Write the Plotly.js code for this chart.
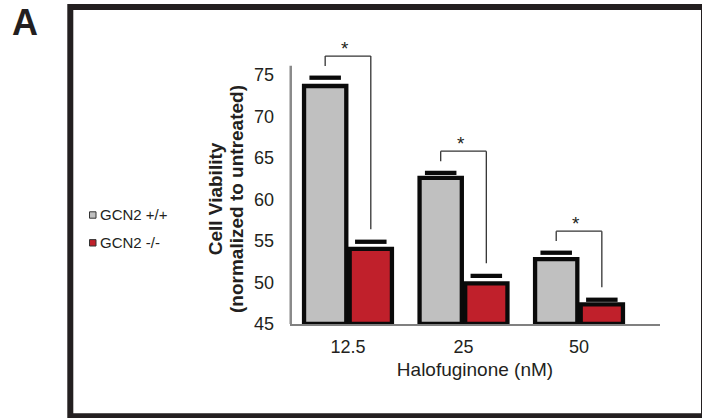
<!DOCTYPE html>
<html>
<head>
<meta charset="utf-8">
<script src="https://cdn.plot.ly/plotly-3.0.1.min.js"></script>
<style>html,body{margin:0;padding:0;background:#fff;}#chart{width:702px;height:418px;}</style>
</head>
<body>
<div id="chart"></div>
<script>
// ---- data ----
const doses = ['12.5', '25', '50'];                 // Halofuginone (nM)
const seriesNames = ['GCN2 +/+', 'GCN2 -/-'];
const wildType = [73.65, 62.6, 52.8];                // GCN2 +/+
const wildTypeErr = [1.0, 0.6, 0.78];
const knockout = [54.05, 49.9, 47.37];               // GCN2 -/-
const knockoutErr = [0.85, 0.9, 0.55];
const significance = ['*', '*', '*'];
const yTicks = [45, 50, 55, 60, 65, 70, 75];
const yTitleLines = ['Cell Viability', '(normalized to untreated)'];

// ---- layout geometry ----
const W = 702, H = 418;
const M = {l: 290, r: 42, t: 40, b: 94};
const plotW = W - M.l - M.r, plotH = H - M.t - M.b;
const px = x => (x - M.l) / plotW;          // pixel -> paper x
const py = y => (H - M.b - y) / plotH;      // pixel -> paper y
const BASE = 45;
const BARGAP = 0.21;
const half = (1 - BARGAP) / 4;              // offset of each bar centre from category centre
const ink = '#231f20';
const font = 'Liberation Sans, Arial, sans-serif';
const colors = ['#c0c0c0', '#c0202b'];

const barTrace = (vals, name, color) => ({
  type: 'bar', x: doses, y: vals.map(v => v - BASE), base: BASE, name: name,
  marker: {color: color, line: {color: '#0a0a0a', width: 4.3}},
  showlegend: false, hoverinfo: 'skip'
});
const capTrace = (vals, errs, name) => ({
  type: 'scatter', mode: 'markers', x: doses, y: vals.map((v, i) => v + errs[i]), name: name,
  marker: {symbol: 'line-ew', size: 22.5, color: '#0a0a0a', line: {color: '#0a0a0a', width: 4.3}},
  showlegend: false, hoverinfo: 'skip', cliponaxis: false
});

const data = [
  barTrace(wildType, seriesNames[0], colors[0]),
  barTrace(knockout, seriesNames[1], colors[1]),
  capTrace(wildType, wildTypeErr, seriesNames[0] + ' error'),
  capTrace(knockout, knockoutErr, seriesNames[1] + ' error')
];

const shapes = [];
const annotations = [];

// significance brackets
doses.forEach((d, i) => {
  const gTop = wildType[i] + wildTypeErr[i];
  const rTop = knockout[i] + knockoutErr[i];
  const top = gTop + 2.6;
  const lineStyle = {color: '#333', width: 1.3};
  shapes.push({type: 'line', xref: 'x', yref: 'y', x0: i - half, x1: i - half, y0: gTop + 1.4, y1: top, line: lineStyle});
  shapes.push({type: 'line', xref: 'x', yref: 'y', x0: i - half, x1: i + half, y0: top, y1: top, line: lineStyle});
  shapes.push({type: 'line', xref: 'x', yref: 'y', x0: i + half, x1: i + half, y0: top, y1: rTop + 1.5, line: lineStyle});
  annotations.push({xref: 'x', yref: 'y', x: i, y: top, text: significance[i], showarrow: false,
    xanchor: 'center', yanchor: 'bottom', xshift: -3, yshift: -5, font: {family: font, size: 19, color: ink}});
});

// y axis line (stops short of the top of the plotting area)
shapes.push({type: 'line', xref: 'paper', yref: 'y', x0: 0.002, x1: 0.002, y0: BASE, y1: 76.1,
  line: {color: '#8a8a8a', width: 2.5}, layer: 'above'});

// outer panel frame
shapes.push({type: 'rect', xref: 'paper', yref: 'paper', x0: px(70.3), x1: px(704), y0: py(416.3), y1: py(7),
  line: {color: ink, width: 6}, fillcolor: 'rgba(0,0,0,0)'});

// legend (squares + labels)
const legY = [215, 242.8];
seriesNames.forEach((n, i) => {
  shapes.push({type: 'rect', xref: 'paper', yref: 'paper', x0: px(89.5), x1: px(96), y0: py(legY[i] + 3.2), y1: py(legY[i] - 3.2),
    fillcolor: colors[i], line: {color: '#333', width: 1}});
  annotations.push({xref: 'paper', yref: 'paper', x: px(97.5), y: py(legY[i] - 0.5), text: n, showarrow: false,
    xanchor: 'left', yanchor: 'middle', font: {family: font, size: 15, color: ink}});
});

// y-axis title (two lines)
const yTitleX = [215, 236.7];
yTitleLines.forEach((t, i) => {
  annotations.push({xref: 'paper', yref: 'paper', x: px(yTitleX[i]), y: py(199.3), text: '<b>' + t + '</b>',
    textangle: -90, showarrow: false, xanchor: 'center', yanchor: 'middle',
    font: {family: font, size: 19, color: ink}});
});

// panel letter
annotations.push({xref: 'paper', yref: 'paper', x: px(25), y: py(22.5), text: '<b>A</b>', showarrow: false,
  xanchor: 'center', yanchor: 'middle', font: {family: font, size: 36, color: ink}});

const layout = {
  width: W, height: H, autosize: false,
  margin: M,
  paper_bgcolor: '#fff', plot_bgcolor: '#fff',
  showlegend: false,
  barmode: 'group', bargap: BARGAP, bargroupgap: 0.074,
  scattermode: 'group', scattergap: BARGAP,
  font: {family: font, color: ink},
  xaxis: {
    type: 'category', categoryorder: 'array', categoryarray: doses,
    range: [-0.502, 2.701], showgrid: false, zeroline: false,
    showline: true, linecolor: '#808080', linewidth: 2, ticks: '',
    tickfont: {family: font, size: 18, color: ink}, ticklabelstandoff: 5,
    title: {text: 'Halofuginone (nM)', font: {family: font, size: 19, color: ink}, standoff: 7}
  },
  yaxis: {
    range: [BASE, BASE + plotH / 8.307], tickvals: yTicks, ticktext: yTicks.map(String),
    showgrid: false, zeroline: false, showline: false, ticks: '',
    tickfont: {family: font, size: 18, color: ink}, ticklabelstandoff: 15
  },
  shapes: shapes,
  annotations: annotations
};

Plotly.newPlot('chart', data, layout, {staticPlot: true, displayModeBar: false});
</script>
</body>
</html>
